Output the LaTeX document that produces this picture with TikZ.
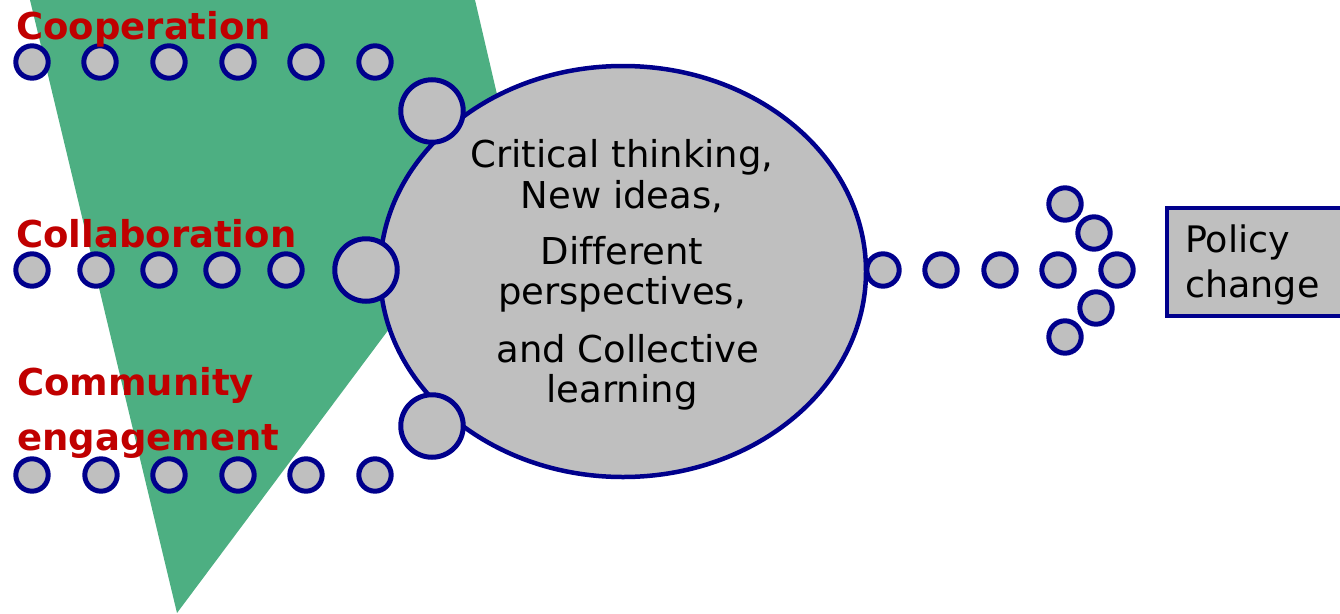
\documentclass[tikz,border=0pt]{standalone}
\usepackage{fontspec}
\setmainfont{DejaVu Sans}[Ligatures=NoCommon]
\usetikzlibrary{shapes.geometric}
\definecolor{pgreen}{RGB}{77,175,130}
\definecolor{pnavy}{RGB}{0,0,140}
\definecolor{pgrey}{RGB}{191,191,191}
\definecolor{pred}{RGB}{192,0,0}
\tikzset{
  dot/.style={circle, draw=pnavy, fill=pgrey, line width=5pt, minimum size=32.4pt, inner sep=0pt},
  bigdot/.style={dot, minimum size=62.5pt},
  lab/.style={text=pred, font=\bfseries\fontsize{37}{40}\selectfont, inner sep=0pt, anchor=base west},
  body/.style={font=\fontsize{37}{40.5}\selectfont, inner sep=0pt, text=black},
  corestyle/.style={ellipse, draw=pnavy, fill=pgrey, line width=4.5pt, inner sep=0pt},
  boxstyle/.style={rectangle, draw=pnavy, fill=pgrey, line width=4pt, inner sep=0pt}
}
\begin{document}
\begin{tikzpicture}[x=1pt,y=-1pt]
\useasboundingbox (0,0) rectangle (1340,613);
\clip (0,0) rectangle (1340,613);
% green band
\fill[pgreen] (30,0) -- (475,0) -- (513,163) -- (177,613) -- cycle;
% circle behind the ellipse (right side)
\node[dot] (out1) at (883,270) {};
% central ellipse
\node[corestyle, minimum width=486pt, minimum height=411pt] (core) at (623,271.5) {};
\node[body, align=center] (coretext) at (622,275) {Critical thinking,\\New ideas,\\[15.5pt]Different\\perspectives,\\[17pt]\hspace*{12pt}and Collective\\learning};
% top row: Cooperation
\foreach \x/\n in {32/1,100/2,169/3,238/4,306/5,375/6}
  \node[dot] (coop\n) at (\x,62) {};
% middle row: Collaboration
\foreach \x/\n in {32/1,96/2,159/3,222/4,286/5}
  \node[dot] (coll\n) at (\x,270) {};
% bottom row: Community engagement
\foreach \x/\n in {32/1,101/2,169/3,238/4,306/5,375/6}
  \node[dot] (comm\n) at (\x,475) {};
% big circles on the ellipse
\node[bigdot] (bigA) at (432,111) {};
\node[bigdot] (bigB) at (366,270) {};
\node[bigdot] (bigC) at (432,426) {};
% right dots and arrow head
\node[dot] (out2) at (941,270) {};
\node[dot] (out3) at (1000,270) {};
\node[dot] (head1) at (1065,204) {};
\node[dot] (head2) at (1094,233) {};
\node[dot] (head3) at (1058,270) {};
\node[dot] (head4) at (1117,270) {};
\node[dot] (head5) at (1096,308) {};
\node[dot] (head6) at (1065,337) {};
% policy box
\node[boxstyle, anchor=north west, minimum width=220pt, minimum height=108pt] (policy) at (1165,206) {};
\node[body, align=left, anchor=base west, font=\fontsize{36.5}{45}\selectfont] (policytext) at (1185,252) {Policy};
\node[body, align=left, anchor=base west, font=\fontsize{36.5}{45}\selectfont] (policytext2) at (1185,297) {change};
% labels
\node[lab] (coop) at (16,39) {Cooperation};
\node[lab] (coll) at (16,247) {Collaboration};
\node[lab] (comm) at (17,395) {Community};
\node[lab] (eng) at (17,450) {engagement};
\end{tikzpicture}
\end{document}
